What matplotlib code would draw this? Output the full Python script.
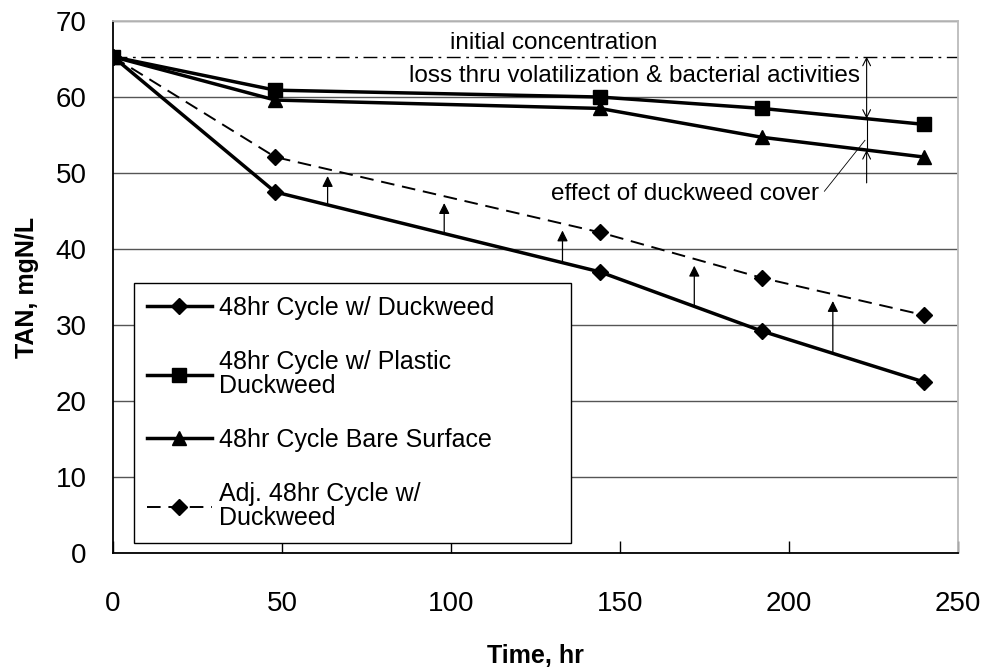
import numpy as np
import matplotlib
matplotlib.use("Agg")
import matplotlib.pyplot as plt

plt.rcParams['font.family'] = ['Liberation Sans', 'DejaVu Sans']

time_hr = [0, 48, 144, 192, 240]
duckweed = [65.3, 47.5, 37.0, 29.2, 22.5]
plastic = [65.3, 60.9, 60.0, 58.5, 56.4]
bare = [65.3, 59.6, 58.5, 54.7, 52.1]
adj_duckweed = [65.3, 52.1, 42.2, 36.2, 31.3]
initial_conc = 65.3

labels = ["48hr Cycle w/ Duckweed",
          "48hr Cycle w/ Plastic\nDuckweed",
          "48hr Cycle Bare Surface",
          "Adj. 48hr Cycle w/\nDuckweed"]

# positions of the small arrows between the measured and adjusted duckweed curves
shift_arrow_x = [63.5, 98, 133, 172, 213]
# position of the bracket arrows on the right
bracket_x = 223

fig = plt.figure(figsize=(9.87, 6.67), dpi=100)
ax = fig.add_axes([0.1145, 0.1709, 0.856, 0.7976])

ax.set_xlim(0, 250)
ax.set_ylim(0, 70)
ax.set_xticks([0, 50, 100, 150, 200, 250])
ax.set_yticks(range(0, 71, 10))
ax.yaxis.grid(True, color='#555555', linewidth=1.0)
ax.set_axisbelow(True)

for s in ['left', 'bottom']:
    ax.spines[s].set_color('black')
    ax.spines[s].set_linewidth(1.3)
for s in ['top', 'right']:
    ax.spines[s].set_color('#bbbbbb')
    ax.spines[s].set_linewidth(1.3)

ax.tick_params(axis='x', direction='in', length=9, width=1, labelsize=20, pad=27)
ax.tick_params(axis='y', direction='in', length=0, labelsize=20, pad=19)

ax.axhline(initial_conc, color='black', linewidth=1.0, linestyle=(0, (10, 4, 2, 4)))

ax.plot(time_hr, duckweed, color='black', linewidth=2.5, marker='D', markersize=8,
        label=labels[0], zorder=4)
ax.plot(time_hr, plastic, color='black', linewidth=2.5, marker='s', markersize=10,
        label=labels[1], zorder=4)
ax.plot(time_hr, bare, color='black', linewidth=2.5, marker='^', markersize=10,
        label=labels[2], zorder=4)
ax.plot(time_hr, adj_duckweed, color='black', linewidth=1.4, linestyle=(0, (7, 4)),
        marker='D', markersize=8, label=labels[3], zorder=4)

# arrows showing the adjustment from measured to adjusted values
for xa in shift_arrow_x:
    y0 = np.interp(xa, time_hr, duckweed)
    y1 = np.interp(xa, time_hr, adj_duckweed) - 0.9
    ax.annotate('', xy=(xa, y1), xytext=(xa, y0),
                arrowprops=dict(arrowstyle='-|>', color='black', lw=0.9,
                                mutation_scale=16, shrinkA=0, shrinkB=0))

# bracket arrows on the right
y_pl = np.interp(bracket_x, time_hr, plastic)
y_ba = np.interp(bracket_x, time_hr, bare)
ax.annotate('', xy=(bracket_x, initial_conc), xytext=(bracket_x, y_pl),
            arrowprops=dict(arrowstyle='<->', color='black', lw=0.8,
                            mutation_scale=14, shrinkA=0, shrinkB=0))
ax.annotate('', xy=(bracket_x, y_ba), xytext=(bracket_x, 48.7),
            arrowprops=dict(arrowstyle='->', color='black', lw=0.8,
                            mutation_scale=14, shrinkA=0, shrinkB=0))
ax.plot([bracket_x, bracket_x], [y_ba, y_pl], color='black', lw=0.8)

ax.text(130.5, 67.1, "initial concentration", fontsize=17.5, ha='center', va='center')
ax.text(221, 62.7, "loss thru volatilization & bacterial activities", fontsize=17.5,
        ha='right', va='center')
ax.text(209, 47.2, "effect of duckweed cover", fontsize=17.5, ha='right', va='center')
ax.plot([210.5, bracket_x - 0.5], [47.6, 54.3], color='black', lw=0.6)

ax.set_xlabel("Time, hr", fontsize=18, fontweight='bold', labelpad=20)
ax.set_ylabel("TAN, mgN/L", fontsize=18, fontweight='bold', labelpad=12)

leg = ax.legend(loc='lower left', bbox_to_anchor=(0.025, 0.019, 0.517, 0.494),
                mode='expand', borderaxespad=0,
                fontsize=18, frameon=True, fancybox=False, edgecolor='black',
                handlelength=2.6, handletextpad=0.3, labelspacing=1.2,
                borderpad=0.5)
for t in leg.get_texts():
    t.set_linespacing(1.02)
leg.get_frame().set_linewidth(1.0)
leg.get_frame().set_alpha(1.0)
leg.set_zorder(5)

fig.savefig("out.png", dpi=100)
